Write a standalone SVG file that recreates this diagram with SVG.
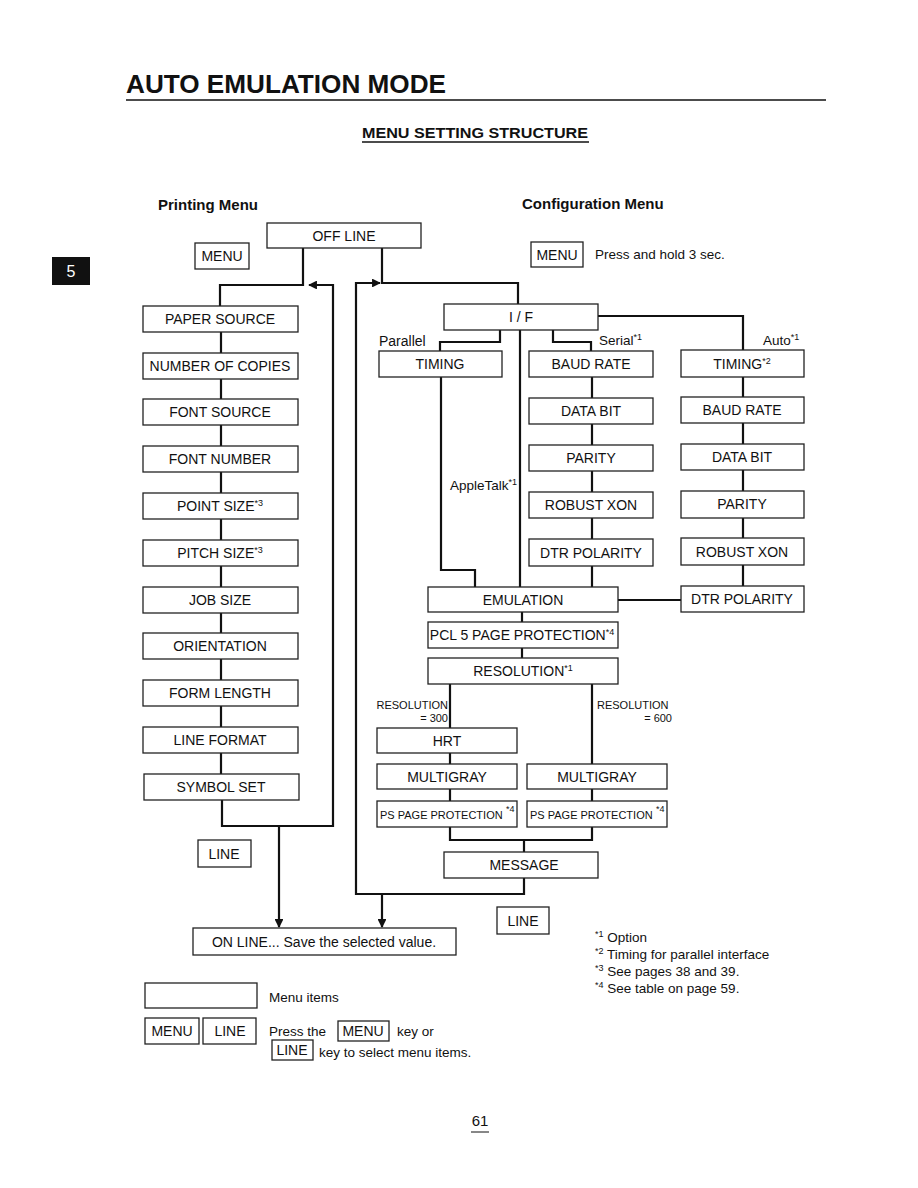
<svg xmlns="http://www.w3.org/2000/svg" width="918" height="1188" viewBox="0 0 918 1188">
<style>
text{font-family:"Liberation Sans",Arial,sans-serif;fill:#111}
.b{fill:#fff;stroke:#222;stroke-width:1.3}
.t{font-size:14px;text-anchor:middle}
.c{fill:none;stroke:#111;stroke-width:2.2}
.s{font-size:9px}
.sm{font-size:11px}
.fn{font-size:13.5px}
.h{font-weight:bold}
</style>
<defs>
<marker id="ah" viewBox="0 0 10 10" refX="9" refY="5" markerWidth="4" markerHeight="4" orient="auto" markerUnits="strokeWidth">
<path d="M0,0 L10,5 L0,10 z" fill="#111"/>
</marker>
</defs>
<rect width="918" height="1188" fill="#fff"/>

<g id="header">
<text x="126" y="93" class="h" font-size="26" textLength="320" lengthAdjust="spacingAndGlyphs">AUTO EMULATION MODE</text>
<line x1="126" y1="100" x2="826" y2="100" stroke="#111" stroke-width="1.6"/>
<text x="362" y="138" class="h" font-size="15" textLength="226" lengthAdjust="spacingAndGlyphs">MENU SETTING STRUCTURE</text>
<line x1="362" y1="142" x2="589" y2="142" stroke="#111" stroke-width="1.3"/>
<rect x="52" y="257" width="38" height="28" fill="#111"/>
<text x="71" y="277" font-size="16" text-anchor="middle" style="fill:#fff">5</text>
<text x="158" y="210" class="h" font-size="15">Printing Menu</text>
<text x="522" y="209" class="h" font-size="15">Configuration Menu</text>
</g>

<g id="connectors">
<path class="c" d="M303,248 V285 H220 V306"/>
<path class="c" d="M221,331 V774"/>
<path class="c" d="M222,800 V826 H333 V285 H309" marker-end="url(#ah)"/>
<path class="c" d="M279,826 V927" marker-end="url(#ah)"/>
<path class="c" d="M382,248 V283 H518 V304"/>
<path class="c" d="M524,878 V894 H356 V283 H380" marker-end="url(#ah)"/>
<path class="c" d="M382,894 V927" marker-end="url(#ah)"/>
<path class="c" d="M598,316 H743 V350 M743,377 V586"/>
<path class="c" d="M500,330 V342 H440 V351"/>
<path class="c" d="M553,330 V342 H591 V351 M592,377 V587"/>
<path class="c" d="M520,330 V587"/>
<path class="c" d="M441,377 V570 H475 V587"/>
<path class="c" d="M618,600 H681"/>
<path class="c" d="M522,612 V658"/>
<path class="c" d="M450,684 V840 H592 V684 M524,840 V852"/>
</g>

<g id="menu-left"><rect class="b" x="195" y="243" width="54" height="26"/><text class="t" x="222" y="261">MENU</text></g>
<g id="off-line"><rect class="b" x="267" y="223" width="154" height="25"/><text class="t" x="344" y="241">OFF LINE</text></g>
<g id="menu-right"><rect class="b" x="531" y="242" width="52" height="25"/><text class="t" x="557" y="260">MENU</text></g>
<text x="595" y="259" font-size="13.5">Press and hold 3 sec.</text>

<g id="paper-source"><rect class="b" x="143" y="306" width="155" height="26"/><text class="t" x="220" y="324">PAPER SOURCE</text></g>
<g id="number-of-copies"><rect class="b" x="143" y="353" width="155" height="26"/><text class="t" x="220" y="371">NUMBER OF COPIES</text></g>
<g id="font-source"><rect class="b" x="143" y="399" width="155" height="26"/><text class="t" x="220" y="417">FONT SOURCE</text></g>
<g id="font-number"><rect class="b" x="143" y="446" width="155" height="26"/><text class="t" x="220" y="464">FONT NUMBER</text></g>
<g id="point-size"><rect class="b" x="143" y="493" width="155" height="26"/><text class="t" x="220" y="511">POINT SIZE<tspan class="s" dy="-5">*3</tspan></text></g>
<g id="pitch-size"><rect class="b" x="143" y="540" width="155" height="26"/><text class="t" x="220" y="558">PITCH SIZE<tspan class="s" dy="-5">*3</tspan></text></g>
<g id="job-size"><rect class="b" x="143" y="587" width="155" height="26"/><text class="t" x="220" y="605">JOB SIZE</text></g>
<g id="orientation"><rect class="b" x="143" y="633" width="155" height="26"/><text class="t" x="220" y="651">ORIENTATION</text></g>
<g id="form-length"><rect class="b" x="143" y="680" width="155" height="26"/><text class="t" x="220" y="698">FORM LENGTH</text></g>
<g id="line-format"><rect class="b" x="143" y="727" width="155" height="26"/><text class="t" x="220" y="745">LINE FORMAT</text></g>
<g id="symbol-set"><rect class="b" x="144" y="774" width="155" height="26"/><text class="t" x="221" y="792">SYMBOL SET</text></g>
<g id="line-left"><rect class="b" x="198" y="840" width="53" height="27"/><text class="t" x="224" y="859">LINE</text></g>

<g id="if"><rect class="b" x="444" y="304" width="154" height="26"/><text class="t" x="521" y="322">I / F</text></g>
<text x="379" y="346" font-size="14">Parallel</text>
<text x="599" y="345" font-size="13.5">Serial<tspan class="s" dy="-5">*1</tspan></text>
<text x="763" y="345" font-size="13.5">Auto<tspan class="s" dy="-5">*1</tspan></text>
<g id="timing-parallel"><rect class="b" x="379" y="351" width="123" height="26"/><text class="t" x="440" y="369">TIMING</text></g>
<text x="450" y="490" font-size="13.5">AppleTalk<tspan class="s" dy="-5">*1</tspan></text>

<g id="s-baud-rate"><rect class="b" x="529" y="351" width="124" height="26"/><text class="t" x="591" y="369">BAUD RATE</text></g>
<g id="s-data-bit"><rect class="b" x="529" y="398" width="124" height="26"/><text class="t" x="591" y="416">DATA BIT</text></g>
<g id="s-parity"><rect class="b" x="529" y="445" width="124" height="26"/><text class="t" x="591" y="463">PARITY</text></g>
<g id="s-robust-xon"><rect class="b" x="529" y="492" width="124" height="26"/><text class="t" x="591" y="510">ROBUST XON</text></g>
<g id="s-dtr-polarity"><rect class="b" x="529" y="539" width="124" height="27"/><text class="t" x="591" y="558">DTR POLARITY</text></g>

<g id="a-timing"><rect class="b" x="681" y="350" width="123" height="27"/><text class="t" x="742" y="369">TIMING<tspan class="s" dy="-5">*2</tspan></text></g>
<g id="a-baud-rate"><rect class="b" x="681" y="397" width="123" height="26"/><text class="t" x="742" y="415">BAUD RATE</text></g>
<g id="a-data-bit"><rect class="b" x="681" y="444" width="123" height="26"/><text class="t" x="742" y="462">DATA BIT</text></g>
<g id="a-parity"><rect class="b" x="681" y="491" width="123" height="27"/><text class="t" x="742" y="509">PARITY</text></g>
<g id="a-robust-xon"><rect class="b" x="681" y="538" width="123" height="27"/><text class="t" x="742" y="557">ROBUST XON</text></g>
<g id="a-dtr-polarity"><rect class="b" x="681" y="586" width="123" height="26"/><text class="t" x="742" y="604">DTR POLARITY</text></g>

<g id="emulation"><rect class="b" x="428" y="587" width="190" height="25"/><text class="t" x="523" y="605">EMULATION</text></g>
<g id="pcl5"><rect class="b" x="428" y="622" width="190" height="26"/><text class="t" x="522" y="640" font-size="13.5">PCL 5 PAGE PROTECTION<tspan class="s" dy="-5">*4</tspan></text></g>
<g id="resolution"><rect class="b" x="428" y="658" width="190" height="26"/><text class="t" x="523" y="676">RESOLUTION<tspan class="s" dy="-5">*1</tspan></text></g>
<text class="sm" x="448" y="709" text-anchor="end">RESOLUTION</text>
<text class="sm" x="448" y="722" text-anchor="end">= 300</text>
<text class="sm" x="597" y="709">RESOLUTION</text>
<text class="sm" x="672" y="722" text-anchor="end">= 600</text>

<g id="hrt"><rect class="b" x="377" y="728" width="140" height="25"/><text class="t" x="447" y="746">HRT</text></g>
<g id="multigray-300"><rect class="b" x="377" y="764" width="140" height="25"/><text class="t" x="447" y="782">MULTIGRAY</text></g>
<g id="ps-300"><rect class="b" x="377" y="801" width="140" height="26"/><text x="380" y="819" font-size="11">PS PAGE PROTECTION</text><text class="s" x="506" y="812">*4</text></g>
<g id="multigray-600"><rect class="b" x="527" y="764" width="140" height="25"/><text class="t" x="597" y="782">MULTIGRAY</text></g>
<g id="ps-600"><rect class="b" x="527" y="801" width="140" height="26"/><text x="530" y="819" font-size="11">PS PAGE PROTECTION</text><text class="s" x="656" y="812">*4</text></g>
<g id="message"><rect class="b" x="444" y="852" width="154" height="26"/><text class="t" x="524" y="870">MESSAGE</text></g>

<g id="on-line"><rect class="b" x="193" y="928" width="263" height="27"/><text class="t" x="324" y="947">ON LINE... Save the selected value.</text></g>
<g id="line-right"><rect class="b" x="497" y="907" width="52" height="27"/><text class="t" x="523" y="926">LINE</text></g>

<g id="footnotes">
<text class="fn" x="595" y="942"><tspan class="s" dy="-5">*1</tspan><tspan dy="5"> Option</tspan></text>
<text class="fn" x="595" y="959"><tspan class="s" dy="-5">*2</tspan><tspan dy="5"> Timing for parallel interface</tspan></text>
<text class="fn" x="595" y="976"><tspan class="s" dy="-5">*3</tspan><tspan dy="5"> See pages 38 and 39.</tspan></text>
<text class="fn" x="595" y="993"><tspan class="s" dy="-5">*4</tspan><tspan dy="5"> See table on page 59.</tspan></text>
</g>

<g id="legend">
<rect class="b" x="145" y="983" width="112" height="25"/>
<text class="fn" x="269" y="1002">Menu items</text>
<rect class="b" x="145" y="1018" width="54" height="26"/>
<text class="t" x="172" y="1036">MENU</text>
<rect class="b" x="203" y="1018" width="53" height="26"/>
<text class="t" x="230" y="1036">LINE</text>
<text class="fn" x="269" y="1036">Press the</text>
<rect class="b" x="338" y="1021" width="51" height="20"/>
<text class="t" x="363" y="1036">MENU</text>
<text class="fn" x="397" y="1036">key or</text>
<rect class="b" x="272" y="1040" width="41" height="20"/>
<text class="t" x="292" y="1055">LINE</text>
<text class="fn" x="319" y="1057">key to select menu items.</text>
</g>

<g id="page-number">
<text x="480" y="1126" font-size="15" text-anchor="middle">61</text>
<line x1="471" y1="1132" x2="489" y2="1132" stroke="#111" stroke-width="1"/>
</g>
</svg>
